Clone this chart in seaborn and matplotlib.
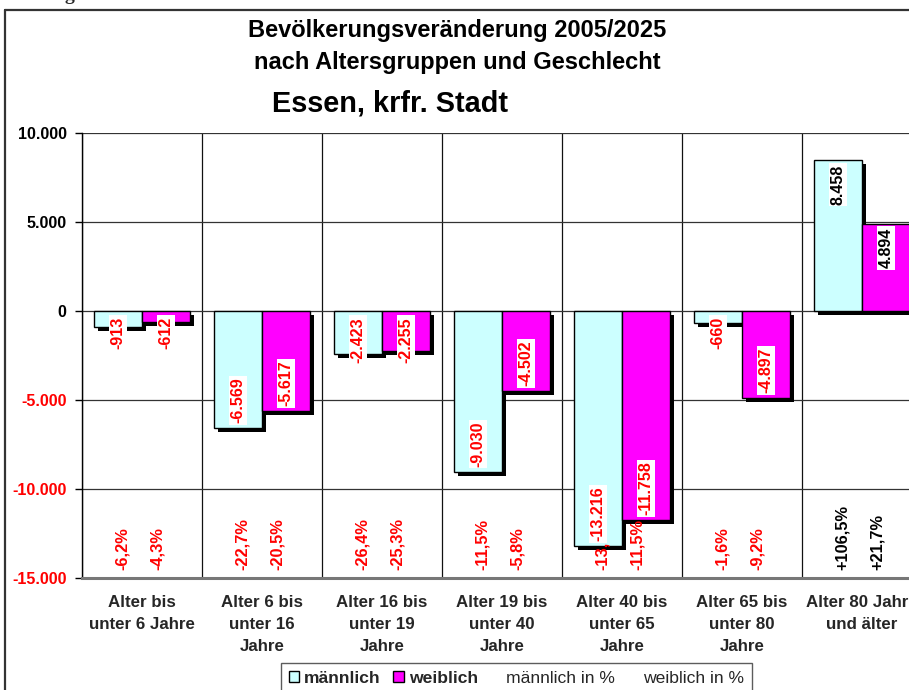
import matplotlib
matplotlib.use("Agg")
import matplotlib.pyplot as plt
import matplotlib.transforms as mtransforms
from matplotlib.patches import Patch, Rectangle
from matplotlib.lines import Line2D
import numpy as np
import pandas as pd
import seaborn as sns

categories = [
    "Alter bis\nunter 6 Jahre",
    "Alter 6 bis\nunter 16\nJahre",
    "Alter 16 bis\nunter 19\nJahre",
    "Alter 19 bis\nunter 40\nJahre",
    "Alter 40 bis\nunter 65\nJahre",
    "Alter 65 bis\nunter 80\nJahre",
    "Alter 80 Jahre\nund älter",
]
maennlich = [-913, -6569, -2423, -9030, -13216, -660, 8458]
weiblich = [-612, -5617, -2255, -4502, -11758, -4897, 4894]
maennlich_pct = [-6.2, -22.7, -26.4, -11.5, -13.1, -1.6, 106.5]
weiblich_pct = [-4.3, -20.5, -25.3, -5.8, -11.5, -9.2, 21.7]
y_ticks = [10000, 5000, 0, -5000, -10000, -15000]

FONT = "Liberation Sans"
CYAN = "#CCFFFF"
MAGENTA = "#FF00FF"
RED = "#FF0000"


def fmt_num(v):
    return f"{v:,}".replace(",", ".")


def fmt_pct(p):
    return f"{p:+.1f}%".replace(".", ",")


df = pd.DataFrame({
    "Kategorie": categories * 2,
    "Geschlecht": ["männlich"] * len(categories) + ["weiblich"] * len(categories),
    "Wert": maennlich + weiblich,
})

sns.set_style("white")
plt.rcParams["font.family"] = [FONT, "DejaVu Sans"]

fig = plt.figure(figsize=(9.09, 6.90), dpi=100)
ax = fig.add_axes([82 / 909, 112 / 690, 840 / 909, 445 / 690])

sns.barplot(
    data=df, x="Kategorie", y="Wert", hue="Geschlecht",
    palette={"männlich": CYAN, "weiblich": MAGENTA},
    width=0.8, edgecolor="black", linewidth=1.0, saturation=1,
    legend=False, ax=ax, zorder=3,
)

# drop shadows, 4 px right / 4 px down
shadow_tf = ax.transData + mtransforms.ScaledTranslation(0.04, -0.04, fig.dpi_scale_trans)
for cont in ax.containers:
    for p in cont.patches:
        p.set_zorder(3)
        ax.add_patch(Rectangle((p.get_x(), p.get_y()), p.get_width(), p.get_height(),
                               transform=shadow_tf, facecolor="black",
                               edgecolor="none", zorder=2.5))

ax.set_xlim(-0.5, 6.5)
ax.set_ylim(-15000, 10000)
ax.set_xlabel("")
ax.set_ylabel("")

# axes, grid
ax.set_yticks(y_ticks)
ax.set_yticklabels([fmt_num(t) for t in y_ticks], fontweight="bold", fontsize=11.5)
for lab, t in zip(ax.get_yticklabels(), y_ticks):
    lab.set_color("black" if t >= 0 else RED)
ax.tick_params(axis="y", length=5, width=1, color="black", pad=6, left=True)
ax.set_xticks(range(len(categories)))
ax.set_xticklabels(categories, fontweight="bold", fontsize=12.2, linespacing=1.6)
ax.tick_params(axis="x", length=0, pad=12)
ax.set_xticks(np.arange(-0.5, 7, 1), minor=True)
ax.tick_params(axis="x", which="minor", length=0)
ax.grid(axis="y", which="major", color="#333333", linewidth=0.9)
ax.grid(axis="x", which="minor", color="#111111", linewidth=0.9)
ax.set_axisbelow(True)
for s in ["top", "right"]:
    ax.spines[s].set_visible(False)
ax.spines["left"].set_color("black")
ax.spines["left"].set_linewidth(1.0)
ax.spines["bottom"].set_color("#777777")
ax.spines["bottom"].set_linewidth(2.2)

# value labels
px_per_unit = 445 / 25000
labels = []
for cont in ax.containers:
    for p in cont.patches:
        val = p.get_height()
        xc = p.get_x() + p.get_width() / 2
        if val < 0:
            t = ax.text(xc, val + 5 / px_per_unit, fmt_num(int(round(val))), rotation=90,
                        ha="center", va="bottom", color=RED, fontweight="bold", fontsize=11.5,
                        bbox=dict(facecolor="white", edgecolor="none", pad=1.2), zorder=5)
        else:
            t = ax.text(xc, val - 4 / px_per_unit, fmt_num(int(round(val))), rotation=90,
                        ha="center", va="top", color="black", fontweight="bold", fontsize=11.5,
                        bbox=dict(facecolor="white", edgecolor="none", pad=1.2), zorder=5)
        labels.append((t, val))

# short bars: label starts just below the zero line
fig.canvas.draw()
renderer = fig.canvas.get_renderer()
zero_px = ax.transData.transform((0, 0))[1]
for t, val in labels:
    if val < 0:
        bb = t.get_window_extent(renderer)
        if bb.y1 > zero_px - 6:
            t.set_y(-6 / px_per_unit)
            t.set_va("top")

# percentage labels
for i, (pm, pw) in enumerate(zip(maennlich_pct, weiblich_pct)):
    for dx, p in ((-0.16, pm), (0.125, pw)):
        ax.text(i + dx, -14550, fmt_pct(p), rotation=90, ha="center", va="bottom",
                color="black" if p > 0 else RED, fontweight="bold", fontsize=11.8, zorder=4)

# titles
fig.text(0.503, 1 - 31 / 690, "Bevölkerungsveränderung 2005/2025", ha="center", va="center",
         fontsize=17, fontweight="bold", color="black")
fig.text(0.503, 1 - 62 / 690, "nach Altersgruppen und Geschlecht", ha="center", va="center",
         fontsize=17, fontweight="bold", color="black")
fig.text(0.429, 1 - 104 / 690, "Essen, krfr. Stadt", ha="center", va="center",
         fontsize=20.8, fontweight="bold", color="black")
fig.text(0.076, 1.0, "g", ha="center", va="baseline", fontsize=14,
         family="Liberation Serif", fontweight="bold")

# outer frame
fig.add_artist(Line2D([5 / 909, 1.0], [1 - 10 / 690] * 2, color="#333333", linewidth=1.6))
fig.add_artist(Line2D([5 / 909] * 2, [0, 1 - 10 / 690], color="#333333", linewidth=1.6))

# legend
handles = [
    Patch(facecolor=CYAN, edgecolor="black", linewidth=1.0),
    Patch(facecolor=MAGENTA, edgecolor="black", linewidth=1.0),
    Patch(facecolor="none", edgecolor="none"),
    Patch(facecolor="none", edgecolor="none"),
]
leg = fig.legend(handles, ["männlich", "weiblich", "männlich in %", "weiblich in %"],
                 loc="upper center", bbox_to_anchor=(0.568, 1 - 663 / 690),
                 ncol=4, fontsize=12.6, frameon=True, fancybox=False,
                 edgecolor="#333333", handlelength=0.6, handleheight=0.6,
                 handletextpad=0.3, columnspacing=0.7, borderpad=0.45, borderaxespad=0)
leg.get_frame().set_linewidth(1.0)
for txt in leg.get_texts()[:2]:
    txt.set_fontweight("bold")

fig.savefig("out.png", dpi=100)
